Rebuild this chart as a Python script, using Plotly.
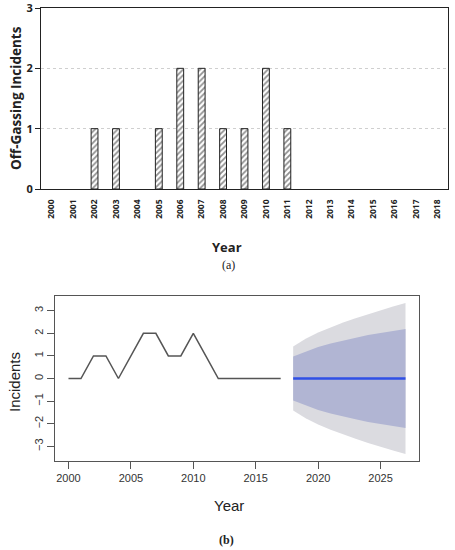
import plotly.graph_objects as go

W, H = 455, 550

# panel (a): yearly off-gassing incidents
years_a = ['2000', '2001', '2002', '2003', '2004', '2005', '2006', '2007', '2008', '2009',
           '2010', '2011', '2012', '2013', '2014', '2015', '2016', '2017', '2018']
incidents_a = [0, 0, 1, 1, 0, 1, 2, 2, 1, 1, 2, 1, 0, 0, 0, 0, 0, 0, 0]

# panel (b): history + forecast
hist_years = [2000, 2001, 2002, 2003, 2004, 2005, 2006, 2007, 2008,
              2009, 2010, 2011, 2012, 2013, 2014, 2015, 2016, 2017]
hist_vals = [0, 0, 1, 1, 0, 1, 2, 2, 1, 1, 2, 1, 0, 0, 0, 0, 0, 0]
fc_years = [2018, 2019, 2020, 2021, 2022, 2023, 2024, 2025, 2026, 2027]
fc_mean = [0, 0, 0, 0, 0, 0, 0, 0, 0, 0]
hi80 = [0.97, 1.19, 1.39, 1.55, 1.68, 1.80, 1.92, 2.01, 2.11, 2.19]
lo80 = [-0.97, -1.19, -1.39, -1.55, -1.68, -1.80, -1.92, -2.01, -2.11, -2.19]
hi95 = [1.42, 1.76, 2.04, 2.27, 2.48, 2.67, 2.85, 3.03, 3.19, 3.34]
lo95 = [-1.42, -1.76, -2.04, -2.27, -2.48, -2.67, -2.85, -3.03, -3.19, -3.34]


def px(x):
    return x / W


def py(y):
    return 1 - y / H


BOLD = 'Open Sans'
R_FONT = 'Liberation Sans'

fig = go.Figure()

# no outline on empty years, otherwise plotly draws a stub on the axis
outline = [1 if v > 0 else 0 for v in incidents_a]
fig.add_trace(go.Bar(
    x=years_a, y=incidents_a, width=0.32,
    marker=dict(color='white', line=dict(color='#222222', width=outline),
                pattern=dict(shape='/', fgcolor='#222222', bgcolor='white', size=4, solidity=0.45)),
    xaxis='x', yaxis='y', showlegend=False))

# forecast bands
fig.add_trace(go.Scatter(
    x=fc_years + fc_years[::-1], y=hi95 + lo95[::-1], fill='toself', mode='lines',
    line=dict(width=0), fillcolor='#dbdbe0', xaxis='x2', yaxis='y2', showlegend=False))
fig.add_trace(go.Scatter(
    x=fc_years + fc_years[::-1], y=hi80 + lo80[::-1], fill='toself', mode='lines',
    line=dict(width=0), fillcolor='#b1b5d3', xaxis='x2', yaxis='y2', showlegend=False))
fig.add_trace(go.Scatter(
    x=hist_years, y=hist_vals, mode='lines', line=dict(color='#555555', width=1.5),
    xaxis='x2', yaxis='y2', showlegend=False))
fig.add_trace(go.Scatter(
    x=fc_years, y=fc_mean, mode='lines', line=dict(color='#2f4fe6', width=2.5),
    xaxis='x2', yaxis='y2', showlegend=False))

fig.update_layout(
    width=W, height=H, margin=dict(l=0, r=0, t=0, b=0),
    paper_bgcolor='white', plot_bgcolor='white',
    xaxis=dict(domain=[px(41), px(448)], anchor='y', type='category', range=[-0.5, 18.5],
               automargin=False,
               showline=True, mirror=True, linecolor='#222222', linewidth=1,
               ticks='', tickangle=-90, ticklabelstandoff=6,
               tickfont=dict(family=BOLD, size=8.5, color='#222222', weight='bold'),
               showgrid=False, zeroline=False),
    yaxis=dict(domain=[py(189), py(8)], anchor='x', range=[0, 3.0001],
               automargin=False,
               tickvals=[0, 1, 2, 3], ticksuffix='\u00a0\u00a0',
               ticklabeloverflow='allow',
               showline=True, mirror=True, linecolor='#222222', linewidth=1,
               ticks='outside', ticklen=5, tickcolor='#222222',
               tickfont=dict(family=BOLD, size=11, color='#222222', weight='bold'),
               showgrid=True, gridcolor='#cfcfcf', griddash='dot', gridwidth=1,
               zeroline=False),
    xaxis2=dict(domain=[px(55), px(419)], anchor='y2', range=[1998.92, 2028.08],
                automargin=False,
                tickvals=[2000, 2005, 2010, 2015, 2020, 2025],
                showline=True, mirror=True, linecolor='#555555', linewidth=1,
                ticks='outside', ticklen=7, tickcolor='#555555',
                tickfont=dict(family=R_FONT, size=11, color='#333333'),
                showgrid=False, zeroline=False),
    yaxis2=dict(domain=[py(461), py(296)], anchor='x2', range=[-3.65, 3.65],
                automargin=False,
                tickvals=[-3, -2, -1, 0, 1, 2, 3],
                showline=True, mirror=True, linecolor='#555555', linewidth=1,
                ticks='outside', ticklen=7, tickcolor='#555555', tickangle=-90,
                tickfont=dict(family=R_FONT, size=11, color='#333333'),
                showgrid=False, zeroline=False),
    annotations=[
        dict(text='Off-Gassing Incidents', x=px(16), y=py(98), xref='paper', yref='paper',
             textangle=-90, showarrow=False, xanchor='center', yanchor='middle',
             font=dict(family=BOLD, size=13.5, color='#222222', weight='bold')),
        dict(text='Year', x=px(227), y=py(247), xref='paper', yref='paper',
             showarrow=False, xanchor='center', yanchor='middle',
             font=dict(family=BOLD, size=13, color='#222222', weight='bold')),
        dict(text='(a)', x=px(228), y=py(265), xref='paper', yref='paper',
             showarrow=False, xanchor='center', yanchor='middle',
             font=dict(family='Liberation Serif', size=12, color='#222222')),
        dict(text='Incidents', x=px(14), y=py(382), xref='paper', yref='paper',
             textangle=-90, showarrow=False, xanchor='center', yanchor='middle',
             font=dict(family=R_FONT, size=15, color='#222222')),
        dict(text='Year', x=px(229), y=py(505), xref='paper', yref='paper',
             showarrow=False, xanchor='center', yanchor='middle',
             font=dict(family=R_FONT, size=15, color='#222222')),
        dict(text='(b)', x=px(226), y=py(540), xref='paper', yref='paper',
             showarrow=False, xanchor='center', yanchor='middle',
             font=dict(family='Liberation Serif', size=12, color='#222222', weight='bold')),
    ],
)

# the page body has a default 8px margin; drop it so the figure fills the window
fig.write_html('out.html', config={'displayModeBar': False},
               post_script="document.body.style.margin='0';")
